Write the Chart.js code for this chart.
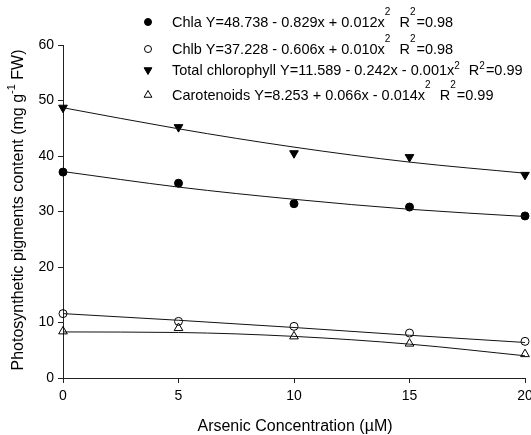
<!DOCTYPE html>
<html>
<head>
<meta charset="utf-8">
<script src="https://cdn.jsdelivr.net/npm/chart.js@4.4.0/dist/chart.umd.min.js"></script>
<style>
  html, body { margin: 0; padding: 0; background: #fff; }
  #wrap { width: 531px; height: 435px; }
</style>
</head>
<body>
<div id="wrap"><canvas id="myChart"></canvas></div>
<script>
const xValues = [0, 5, 10, 15, 20];

// measured points
const chla  = [37.1, 35.1, 31.4, 30.8, 29.2];
const chlb  = [11.6, 10.2, 9.3, 8.1, 6.6];
const total = [48.7, 45.2, 40.5, 39.8, 36.6];
const carot = [8.4, 9.0, 7.5, 6.2, 4.3];

// regression curves at the same x
const chlaFit  = [37.2, 34.4, 32.2, 30.4, 29.1];
const chlbFit  = [11.6, 10.4, 9.1, 7.7, 6.4];
const totalFit = [48.7, 44.9, 41.6, 38.9, 36.9];
const carotFit = [8.3, 8.2, 7.5, 6.1, 4.0];

const yTicks = [0, 10, 20, 30, 40, 50, 60];
const xTitle = 'Arsenic Concentration (µM)';
const yTitle = ['Photosynthetic pigments content (mg g', '-1', ' FW)'];

// legend rows: [text, superscript, text, superscript, text]
const legendRows = [
  ['Chla Y=48.738 - 0.829x + 0.012x', '2', '  R', '2', '=0.98'],
  ['Chlb Y=37.228 - 0.606x + 0.010x', '2', '  R', '2', '=0.98'],
  ['Total chlorophyll Y=11.589 - 0.242x - 0.001x', '2', '  R', '2', '=0.99'],
  ['Carotenoids Y=8.253 + 0.066x - 0.014x', '2', '  R', '2', '=0.99']
];

const FONT = 'Arial, "Liberation Sans", sans-serif';

function pts(arr) {
  return xValues.map((x, i) => ({ x: x, y: arr[i] }));
}

const markers = [
  { style: 'circle', rot: 0, fill: '#000', r: 4 },
  { style: 'circle', rot: 0, fill: 'rgba(0,0,0,0)', r: 4 },
  { style: 'triangle', rot: 180, fill: '#000', r: 5 },
  { style: 'triangle', rot: 0, fill: 'rgba(0,0,0,0)', r: 5 }
];

function fitSet(arr) {
  return {
    data: pts(arr),
    showLine: true,
    borderColor: '#111',
    borderWidth: 1,
    pointRadius: 0,
    cubicInterpolationMode: 'monotone',
    fill: false,
    clip: false
  };
}

function pointSet(arr, m) {
  return {
    data: pts(arr),
    showLine: false,
    pointStyle: m.style,
    rotation: m.rot,
    pointRadius: m.r,
    pointBackgroundColor: m.fill,
    pointBorderColor: '#000',
    pointBorderWidth: 1,
    clip: false
  };
}

const overlay = {
  id: 'overlay',
  afterDraw(chart) {
    const ctx = chart.ctx;
    ctx.save();
    ctx.fillStyle = '#000';

    // legend
    const rowY = [23, 50, 71, 96];
    legendRows.forEach((row, i) => {
      const m = markers[i];
      ctx.strokeStyle = '#000';
      ctx.fillStyle = m.fill;
      ctx.lineWidth = 1;
      Chart.helpers.drawPoint(ctx, { pointStyle: m.style, rotation: m.rot, radius: m.r === 4 ? 3.5 : 4.5, borderWidth: 1 }, 148, rowY[i] - 1);
      ctx.fillStyle = '#000';
      ctx.textBaseline = 'middle';
      ctx.textAlign = 'left';
      let x = 172;
      const raise = i === 2 ? 5 : 11;
      row.forEach((seg, j) => {
        const sup = j % 2 === 1;
        ctx.font = (sup ? '10px ' : '14.5px ') + FONT;
        ctx.fillText(seg, x, rowY[i] - (sup ? raise : 0));
        x += ctx.measureText(seg).width + (sup ? 1 : 0);
      });
    });

    // x title
    ctx.font = '16px ' + FONT;
    ctx.textAlign = 'center';
    ctx.textBaseline = 'middle';
    ctx.fillText(xTitle, 295, 427);

    // y title
    ctx.translate(19, 210);
    ctx.rotate(-Math.PI / 2);
    ctx.font = '16px ' + FONT;
    const w0 = ctx.measureText(yTitle[0]).width;
    ctx.font = '11px ' + FONT;
    const w1 = ctx.measureText(yTitle[1]).width;
    ctx.font = '16px ' + FONT;
    const w2 = ctx.measureText(yTitle[2]).width;
    let sx = -(w0 + w1 + w2) / 2;
    ctx.textAlign = 'left';
    ctx.fillText(yTitle[0], sx, 0);
    ctx.font = '11px ' + FONT;
    ctx.fillText(yTitle[1], sx + w0, -7);
    ctx.font = '16px ' + FONT;
    ctx.fillText(yTitle[2], sx + w0 + w1, 0);
    ctx.restore();
  }
};

new Chart('myChart', {
  type: 'scatter',
  data: {
    datasets: [
      fitSet(chlaFit), fitSet(chlbFit), fitSet(totalFit), fitSet(carotFit),
      pointSet(chla, markers[0]), pointSet(chlb, markers[1]),
      pointSet(total, markers[2]), pointSet(carot, markers[3])
    ]
  },
  options: {
    responsive: true,
    maintainAspectRatio: false,
    animation: false,
    layout: { padding: { top: 45, right: 5, left: 0, bottom: 0 } },
    plugins: { legend: { display: false }, tooltip: { enabled: false } },
    scales: {
      x: {
        type: 'linear',
        min: 0, max: 20,
        afterFit(s) { s.height = 57; s.paddingLeft = 0; s.paddingRight = 0; },
        ticks: { stepSize: 5, color: '#000', font: { size: 14, family: FONT }, padding: 5, maxRotation: 0 },
        grid: { display: true, drawOnChartArea: false, drawTicks: true, tickLength: 5, color: '#222' },
        border: { display: true, color: '#222', width: 1 }
      },
      y: {
        min: 0, max: 60,
        afterFit(s) { s.width = 63; s.paddingTop = 0; s.paddingBottom = 0; },
        afterBuildTicks(s) { s.ticks = yTicks.map(v => ({ value: v })); },
        ticks: { color: '#000', font: { size: 14, family: FONT }, padding: 4 },
        grid: { display: true, drawOnChartArea: false, drawTicks: true, tickLength: 5, color: '#222' },
        border: { display: true, color: '#222', width: 1 }
      }
    }
  },
  plugins: [overlay]
});
</script>
</body>
</html>
